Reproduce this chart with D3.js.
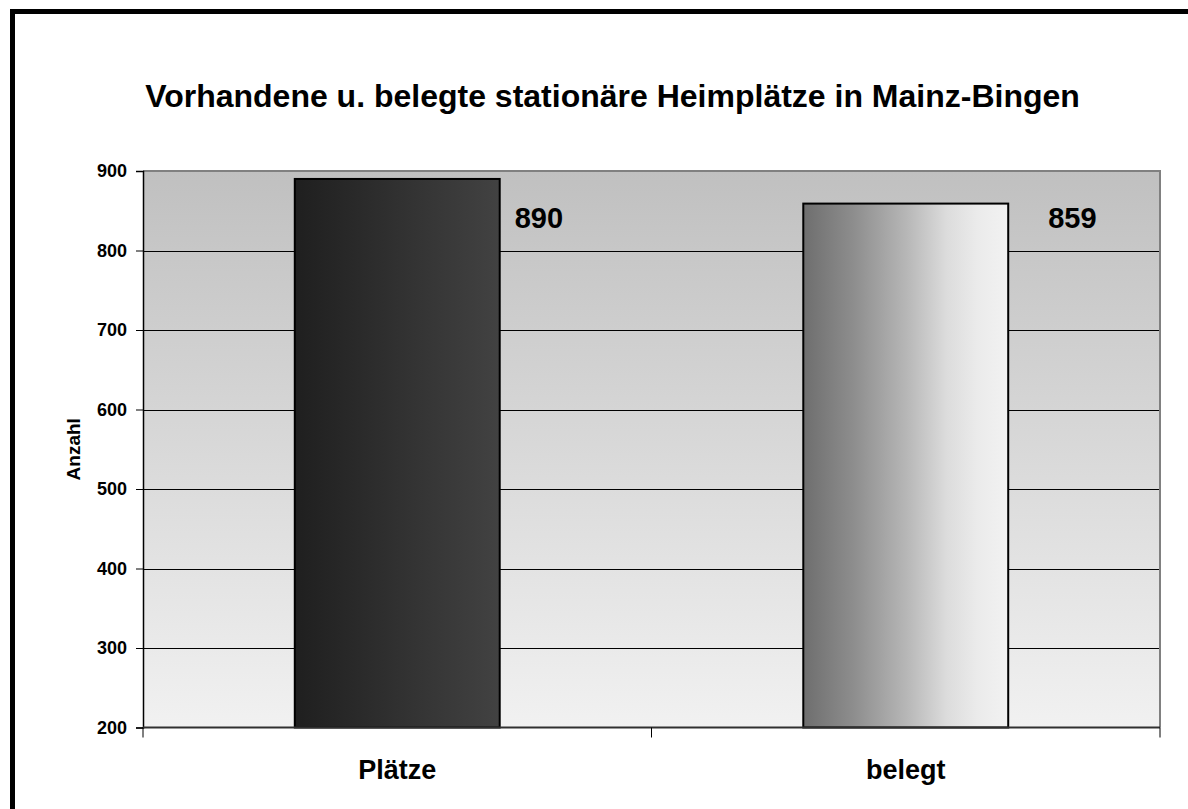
<!DOCTYPE html>
<html>
<head>
<meta charset="utf-8">
<script src="https://cdn.jsdelivr.net/npm/d3@7"></script>
<style>
  html, body { margin: 0; padding: 0; background: #fff; }
  svg { display: block; }
  text { font-family: "Liberation Sans", Arial, sans-serif; font-weight: bold; fill: #000; }
</style>
</head>
<body>
<svg id="chart" width="1188" height="809"></svg>
<script>
const title = "Vorhandene u. belegte stationäre Heimplätze in Mainz-Bingen";
const categories = ["Plätze", "belegt"];
const values = [890, 859];
const yTicks = [200, 300, 400, 500, 600, 700, 800, 900];
const yLabel = "Anzahl";
const labelOffsets = [15, 40];

const plot = { left: 143, right: 1160, top: 171, bottom: 727.5 };

const svg = d3.select("#chart");
const defs = svg.append("defs");

const bg = defs.append("linearGradient").attr("id", "bgGrad")
  .attr("x1", 0).attr("y1", 0).attr("x2", 0).attr("y2", 1);
bg.append("stop").attr("offset", "0%").attr("stop-color", "#c0c0c0");
bg.append("stop").attr("offset", "100%").attr("stop-color", "#f1f1f1");

const g1 = defs.append("linearGradient").attr("id", "bar0")
  .attr("x1", 0).attr("y1", 0).attr("x2", 1).attr("y2", 0);
g1.append("stop").attr("offset", "0%").attr("stop-color", "#1f1f1f");
g1.append("stop").attr("offset", "100%").attr("stop-color", "#424242");

const g2 = defs.append("linearGradient").attr("id", "bar1")
  .attr("x1", 0).attr("y1", 0).attr("x2", 1).attr("y2", 0);
[[0, "#6e6e6e"], [0.25, "#8e8e8e"], [0.5, "#b6b6b6"], [0.7, "#dcdcdc"], [0.85, "#ebebeb"], [1, "#f2f2f2"]]
  .forEach(([o, c]) => g2.append("stop").attr("offset", o).attr("stop-color", c));

// outer frame
svg.append("rect")
  .attr("x", 12.5).attr("y", 11.5).attr("width", 1300).attr("height", 1000)
  .attr("fill", "none").attr("stroke", "#000").attr("stroke-width", 5);

const pad = 0.597;
const x = d3.scaleBand().domain(categories).range([plot.left, plot.right])
  .paddingInner(pad).paddingOuter(pad / 2);
const y = d3.scaleLinear().domain([200, 900]).range([plot.bottom, plot.top]);

svg.append("rect")
  .attr("x", plot.left).attr("y", plot.top)
  .attr("width", plot.right - plot.left).attr("height", plot.bottom - plot.top)
  .attr("fill", "url(#bgGrad)");

svg.append("g").selectAll("line").data(yTicks.filter(t => t > 200 && t < 900)).join("line")
  .attr("x1", plot.left).attr("x2", plot.right)
  .attr("y1", d => Math.round(y(d)) + 0.5).attr("y2", d => Math.round(y(d)) + 0.5)
  .attr("stroke", "#000").attr("stroke-width", 1);

svg.append("path")
  .attr("d", `M${plot.left},${plot.top}H${plot.right}V${plot.bottom}`)
  .attr("fill", "none").attr("stroke", "#808080").attr("stroke-width", 2);

svg.append("g").selectAll("rect").data(categories).join("rect")
  .attr("x", d => x(d))
  .attr("y", (d, i) => y(values[i]))
  .attr("width", x.bandwidth())
  .attr("height", (d, i) => y(200) - y(values[i]))
  .attr("fill", (d, i) => `url(#bar${i})`)
  .attr("stroke", "#000").attr("stroke-width", 2);

const yAxis = d3.axisLeft(y).tickValues(yTicks).tickSize(7).tickPadding(9).tickFormat(d3.format("d"));
const ya = svg.append("g").attr("transform", `translate(${plot.left},0)`).call(yAxis);
ya.select(".domain").attr("stroke", "#000").attr("stroke-width", 1.5);
ya.selectAll(".tick line").attr("stroke", "#000");
ya.selectAll(".tick text").style("font-size", "18px").style("font-family", "'Liberation Sans', Arial, sans-serif")
  .style("font-weight", "bold").attr("fill", "#000");

const xa = svg.append("g").attr("transform", `translate(0,${plot.bottom})`);
xa.append("line").attr("x1", plot.left).attr("x2", plot.right)
  .attr("stroke", "#303030").attr("stroke-width", 2);
const bounds = [plot.left, ...categories.slice(1).map(c => x(c) - x.step() * x.paddingInner() / 2), plot.right];
xa.selectAll("line.tk").data(bounds).join("line").attr("class", "tk")
  .attr("x1", d => d).attr("x2", d => d).attr("y1", 0).attr("y2", 10)
  .attr("stroke", "#000").attr("stroke-width", 1);
xa.selectAll("text").data(categories).join("text")
  .attr("x", d => x(d) + x.bandwidth() / 2).attr("y", 51)
  .attr("text-anchor", "middle").style("font-size", "27px").text(d => d);

svg.append("g").selectAll("text").data(categories).join("text")
  .attr("x", (d, i) => x(d) + x.bandwidth() + labelOffsets[i])
  .attr("y", y(900) + 57)
  .style("font-size", "29px")
  .text((d, i) => values[i]);

svg.append("text")
  .attr("transform", `translate(80,${(plot.top + plot.bottom) / 2}) rotate(-90)`)
  .attr("text-anchor", "middle").style("font-size", "19px").text(yLabel);

svg.append("text")
  .attr("x", 612.5).attr("y", 107)
  .attr("text-anchor", "middle").style("font-size", "32px").text(title);
</script>
</body>
</html>
